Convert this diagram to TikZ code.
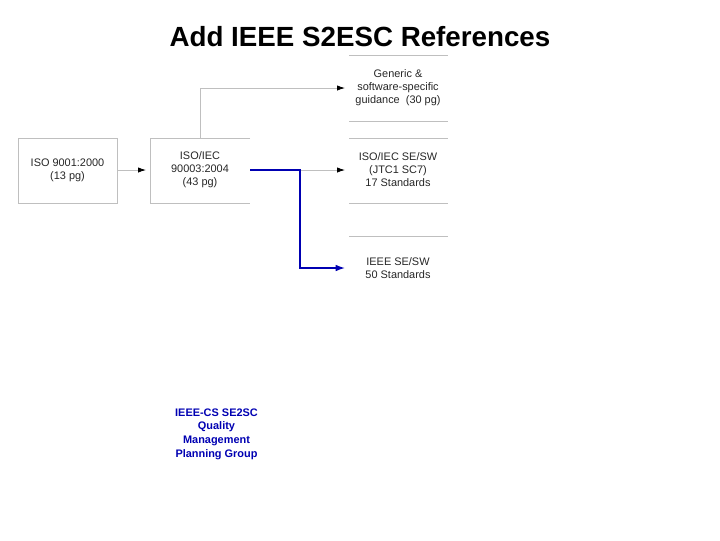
\documentclass[tikz,border=0pt]{standalone}
\usepackage{fontspec}
\setmainfont{Liberation Sans}
\usetikzlibrary{arrows.meta}
\begin{document}
\begin{tikzpicture}[x=0.75pt,y=-0.75pt,
  lbl/.style={align=center,font=\fontsize{8.2}{9.8}\selectfont,text=black!85},
  box/.style={draw=black!25,line width=0.6pt},
  conn/.style={draw=black!25,line width=0.6pt,-{Latex[black,length=6pt,width=4pt]},shorten >=3pt}]
\useasboundingbox (0,0) rectangle (720,540);
\node[font=\fontsize{20.8}{23}\bfseries] (title) at (360,37) {Add IEEE S2ESC References};
% boxes
\draw[box] (18,138) rectangle (117,203);
\node[lbl] (iso) at (67.5,170) {ISO 9001:2000\\(13 pg)};
\draw[box] (250,138) -- (150,138) -- (150,203) -- (250,203);
\node[lbl] (iec) at (200,170) {ISO/IEC\\90003:2004\\(43 pg)};
\draw[box] (349,55) -- (448,55) (349,121) -- (448,121);
\node[lbl] (gen) at (398,88) {Generic \&\\software-specific\\guidance\ \ (30 pg)};
\draw[box] (349,138) -- (448,138) (349,203) -- (448,203);
\node[lbl] (sesw) at (398,170) {ISO/IEC SE/SW\\(JTC1 SC7)\\17 Standards};
\draw[box] (349,236) -- (448,236);
\node[lbl] (ieee) at (398,268) {IEEE SE/SW\\50 Standards};
\coordinate (isoR) at (117,170);
\coordinate (iecL) at (150,170);
\coordinate (iecR) at (250,170);
\coordinate (iecT) at (200,138);
\coordinate (genL) at (349,88);
\coordinate (seswL) at (349,170);
\coordinate (ieeeL) at (349,268);
\coordinate (bend) at (300,170);
\draw[conn] (isoR) -- (iecL);
\draw[conn] (iecT) |- (genL);
\draw[conn] (iecR) -- (seswL);
\draw[blue!70!black,line width=1pt,-{Latex[length=7pt,width=5pt]},shorten >=3pt] (iecR) -- (bend) |- (ieeeL);
\node[align=center,font=\fontsize{8.2}{10.2}\bfseries,text=blue!70!black] (grp) at (216.5,434) {IEEE-CS SE2SC\\Quality\\Management\\Planning Group};
\end{tikzpicture}
\end{document}
